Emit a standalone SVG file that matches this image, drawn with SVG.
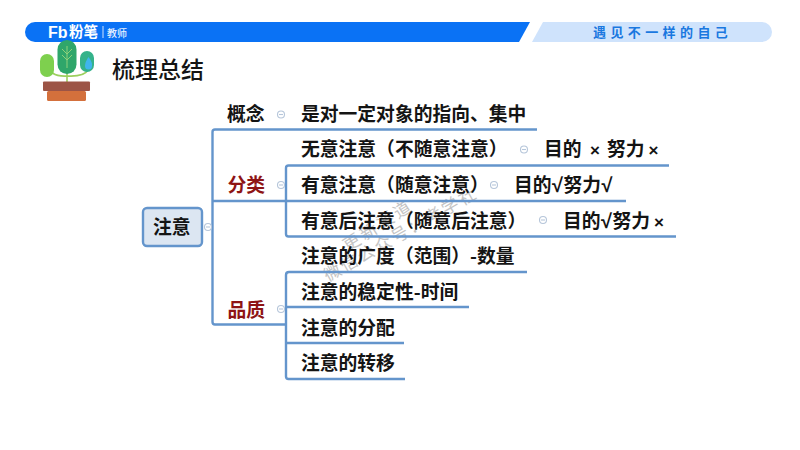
<svg xmlns="http://www.w3.org/2000/svg" width="800" height="450" viewBox="0 0 800 450">
<style>
text{font-family:"Noto Sans CJK SC","Liberation Sans",sans-serif;fill:#141414;font-weight:700}
.t{font-size:18.800px}
.c{font-size:18.800px;fill:#8e1414}
.s{font-family:"Liberation Sans",sans-serif;font-size:17px}
.r{font-family:"Liberation Sans",sans-serif;font-size:20px}
.l{fill:none;stroke:#6495cc;stroke-width:2.400;stroke-linejoin:round}
.k{fill:none;stroke:#b6c6da;stroke-width:1.100}
.wm{font-size:17px;font-weight:400;fill:#c4c4c4}
</style>
<rect width="800" height="450" fill="#fff"/>
<g id="banner">
<path d="M35 22H530L519 42H35A10 10 0 0 1 35 22Z" fill="#0a72f5"/>
<path d="M543 22H762A10 10 0 0 1 762 42H532Z" fill="#cfe3fc"/>
<text x="48" y="38" font-size="16" style="fill:#fff;font-family:'Liberation Sans',sans-serif">Fb</text>
<text x="69" y="37" font-size="14.500" style="fill:#fff">粉笔</text>
<path d="M103 26V38" stroke="#cfe3fc" stroke-width="1"/>
<text x="107" y="37" font-size="10" style="fill:#e6f0ff;font-weight:500">教师</text>
<text x="593" y="37" font-size="13" letter-spacing="4.400" style="fill:#1a78e0">遇见不一样的自己</text>
</g>
<g id="plant">
<path d="M67 70V82M67 76Q50 77 47 65M67 76Q84 77 88 70" fill="none" stroke="#9ccf5e" stroke-width="1.600"/>
<rect x="40" y="54" width="14" height="23" rx="7" fill="#7ed04e"/>
<rect x="57.500" y="40" width="19" height="34" rx="9.500" fill="#2fa66a"/>
<rect x="80" y="51" width="14" height="21" rx="7" fill="#35b28a"/>
<path d="M88.500 57Q93 63 92 66A3.500 3.500 0 0 1 85 66Q85 62 88.500 57Z" fill="#3fb5ec"/>
<path d="M67 46V68M67 54L62 49M67 54L72 49M67 60L62 55M67 60L72 55" stroke="#8ed07a" stroke-width="1" fill="none"/>
<rect x="43" y="81.500" width="47" height="9.500" rx="1" fill="#9c5446"/>
<rect x="47" y="91" width="39" height="10" rx="1.500" fill="#d4703c"/>
</g>
<text id="title" x="112" y="78" font-size="23" style="font-weight:500">梳理总结</text>
<g id="watermark">
<text class="wm" transform="translate(348 252) rotate(-33)" letter-spacing="3">更新渠道</text>
<text class="wm" transform="translate(328 282) rotate(-29.500)" letter-spacing="2.300">微信公众号：考学社</text>
</g>
<g id="connectors">
<path class="l" d="M212.500 201V132Q212.500 129.500 215 129.500H537"/>
<path class="l" d="M212.500 201H626"/>
<path class="l" d="M212.500 201V322Q212.500 324.500 215 324.500H286"/>
<path class="l" d="M286 201V168Q286 165.500 288.500 165.500H669"/>
<path class="l" d="M286 201V234Q286 236.500 288.500 236.500H676"/>
<path class="l" d="M286 343V275Q286 272 289 272H527"/>
<path class="l" d="M286 307H469"/>
<path class="l" d="M286 343H404"/>
<path class="l" d="M286 343V376.500Q286 379 288.500 379H405"/>
<circle class="k" cx="281" cy="114.500" r="3.500"/><path class="k" d="M279 114.500H283"/>
<circle class="k" cx="281" cy="185" r="3.500"/><path class="k" d="M279 185H283"/>
<circle class="k" cx="281" cy="309" r="3.500"/><path class="k" d="M279 309H283"/>
<circle class="k" cx="208" cy="227" r="3.500"/><path class="k" d="M206 227H210"/>
<circle class="k" cx="524" cy="149.500" r="3.500"/><path class="k" d="M522 149.500H526"/>
<circle class="k" cx="494" cy="185" r="3.500"/><path class="k" d="M492 185H496"/>
<circle class="k" cx="543" cy="220" r="3.500"/><path class="k" d="M541 220H545"/>
</g>
<g id="root"><rect x="143" y="208" width="59" height="38" rx="4" fill="#dce6f2" stroke="#6495cc" stroke-width="2.400"/><text x="153" y="234" font-size="18.800">注意</text></g>
<g id="n-gainian"><text class="t" x="227" y="120.500">概念</text></g>
<g id="n-fenlei"><text class="c" x="227.500" y="191.500">分类</text></g>
<g id="n-pinzhi"><text class="c" x="227.500" y="316.500">品质</text></g>
<g id="n1"><text class="t" x="301" y="120.500">是对一定对象的指向、集中</text></g>
<g id="n2"><text class="t" x="301" y="156">无意注意（不随意注意）</text><text class="t" x="544" y="156">目的<tspan class="s" x="590">×</tspan><tspan x="607">努力</tspan><tspan class="s" x="648.500">×</tspan></text></g>
<g id="n3"><text class="t" x="301" y="192">有意注意（随意注意）</text><text class="t" x="514" y="192">目的<tspan class="r" x="552">√</tspan><tspan x="563.500">努力</tspan><tspan class="r" x="601.500">√</tspan></text></g>
<g id="n4"><text class="t" x="301" y="227.500">有意后注意（随意后注意）</text><text class="t" x="563" y="227.500">目的<tspan class="r" x="601">√</tspan><tspan x="612.500">努力</tspan><tspan class="s" x="654">×</tspan></text></g>
<g id="n5"><text class="t" x="301" y="263">注意的广度（范围）-数量</text></g>
<g id="n6"><text class="t" x="301" y="298.500">注意的稳定性-时间</text></g>
<g id="n7"><text class="t" x="301" y="334.500">注意的分配</text></g>
<g id="n8"><text class="t" x="301" y="369.500">注意的转移</text></g>
</svg>
